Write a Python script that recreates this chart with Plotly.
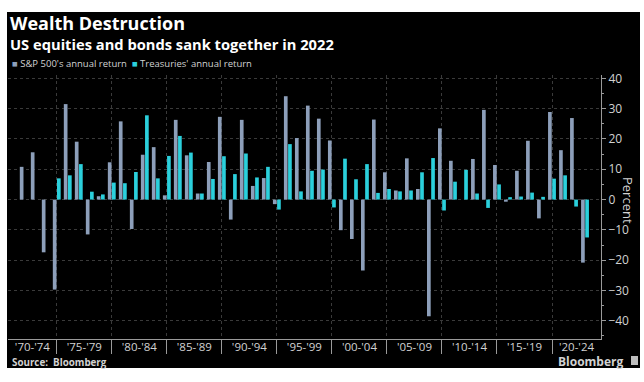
import plotly.graph_objects as go
import pandas as pd

years = list(range(1971, 2023))
sp500 = [10.8, 15.6, -17.4, -29.7, 31.5, 19.1, -11.5, 1.1, 12.3, 25.8,
         -9.7, 14.8, 17.3, 1.4, 26.3, 14.6, 2.0, 12.4, 27.3, -6.6,
         26.3, 4.5, 7.1, -1.5, 34.1, 20.3, 31.0, 26.7, 19.5, -10.1,
         -13.0, -23.4, 26.4, 9.0, 3.0, 13.6, 3.5, -38.5, 23.5, 12.8,
         0.0, 13.4, 29.6, 11.4, -0.7, 9.5, 19.4, -6.2, 28.9, 16.3,
         26.9, -20.8]
treasuries = [None, None, None, 7.0, 8.0, 11.7, 2.6, 1.7, 5.6, 5.4,
              9.1, 27.8, 7.0, 14.4, 21.0, 15.5, 2.0, 6.8, 14.3, 8.4,
              15.2, 7.3, 10.8, -3.3, 18.3, 2.7, 9.5, 9.9, -2.6, 13.5,
              6.7, 11.7, 2.2, 3.5, 2.7, 3.0, 9.0, 13.7, -3.6, 5.9,
              9.8, 2.0, -2.75, 5.0, 0.8, 1.0, 2.3, 0.9, 6.9, 8.0,
              -2.3, -12.5]
group_starts = list(range(1970, 2025, 5))
group_labels = ["'70-'74", "'75-'79", "'80-'84", "'85-'89", "'90-'94", "'95-'99",
                "'00-'04", "'05-'09", "'10-'14", "'15-'19", "'20-'24"]
yticks = [40, 30, 20, 10, 0, -10, -20, -30, -40]

GRAY = "#8d9fba"
CYAN = "#2bd0dc"
TXT = "#d2d2d2"

dates = [f"{y}-12-31" for y in years]
x_range = [pd.Timestamp("1970-07-27"), pd.Timestamp("2024-06-14")]

# tick labels centred in the visible part of each 5-year block
label_pos = []
for g in group_starts:
    a = max(pd.Timestamp(f"{g}-01-01"), x_range[0])
    b = min(pd.Timestamp(f"{g + 5}-01-01"), x_range[1])
    label_pos.append(a + (b - a) / 2)
boundaries = [f"{g}-01-01" for g in group_starts[1:]]

fig = go.Figure()
fig.add_trace(go.Bar(x=dates, y=sp500, name="S&P 500's annual return",
                     marker=dict(color=GRAY, line=dict(width=0))))
fig.add_trace(go.Bar(x=dates, y=treasuries, name="Treasuries' annual return",
                     marker=dict(color=CYAN, line=dict(width=0))))

L, R, T, B = 8, 43, 75, 43
W, H = 644, 382
PW, PH = W - L - R, H - T - B


def X(px):
    return (px - L) / PW


def Y(py):
    return (H - B - py) / PH


fig.update_layout(
    width=W, height=H,
    margin=dict(l=L, r=R, t=T, b=B, autoexpand=False),
    paper_bgcolor="white",
    plot_bgcolor="black",
    barmode="group", bargap=0.24, bargroupgap=0.12,
    showlegend=False,
    font=dict(family="Open Sans", color=TXT, size=12),
    xaxis=dict(
        type="date", range=x_range, automargin=False,
        tickmode="array", tickvals=label_pos, ticktext=group_labels,
        ticks="", showgrid=False,
        showline=True, linecolor="#9a9a9a", linewidth=1,
        tickfont=dict(size=11.5, color=TXT),
        minor=dict(tickmode="array", tickvals=boundaries, ticks="outside",
                   ticklen=14, tickcolor="#9a9a9a", tickwidth=1,
                   showgrid=True, gridcolor="#3a3a3a", gridwidth=1, griddash="dot"),
    ),
    yaxis=dict(
        side="right", range=[-46, 41.1], automargin=False,
        tickmode="array", tickvals=yticks,
        ticks="outside", ticklen=4, tickcolor="#9a9a9a",
        showline=True, linecolor="#9a9a9a", linewidth=1,
        showgrid=True, gridcolor="#3a3a3a", griddash="dot", zeroline=False,
        tickfont=dict(size=12, color=TXT),
        minor=dict(dtick=5, tick0=0, ticks="outside", ticklen=2, tickcolor="#9a9a9a", showgrid=False),
    ),
)
try:
    fig.update_xaxes(ticklabelstandoff=-3)
except Exception:
    pass

fig.add_shape(type="rect", xref="paper", yref="paper", layer="below",
              x0=X(7), x1=X(640), y0=Y(368), y1=Y(12),
              fillcolor="black", line=dict(width=0))
fig.add_shape(type="rect", xref="paper", yref="paper",
              x0=X(631), x1=X(638), y0=Y(365), y1=Y(356),
              fillcolor="#bdbdbd", line=dict(width=0))

anns = [
    dict(text="<b>Wealth Destruction</b>", x=X(8), y=Y(23), size=18, color="white", xanchor="left"),
    dict(text="<b>US equities and bonds sank together in 2022</b>", x=X(8), y=Y(44), size=14.7, color="white", xanchor="left"),
    dict(text=f"<span style='color:{GRAY}'>■</span> S&P 500's annual return  "
              f"<span style='color:{CYAN}'>■</span> Treasuries' annual return",
         x=X(10), y=Y(64), size=9.5, color=TXT, xanchor="left"),
    dict(text="<b>Source:  Bloomberg</b>", x=X(10), y=Y(362), size=9.8, color=TXT, xanchor="left"),
    dict(text="<b>Bloomberg</b>", x=X(626), y=Y(361), size=12, color=TXT, xanchor="right"),
]
for a in anns:
    fig.add_annotation(text=a["text"], x=a["x"], y=a["y"], xref="paper", yref="paper",
                       xanchor=a["xanchor"], yanchor="middle", showarrow=False,
                       font=dict(size=a["size"], color=a["color"], family="Open Sans"))
fig.add_annotation(text="Percent", x=X(628), y=Y(200), xref="paper", yref="paper",
                   xanchor="center", yanchor="middle", showarrow=False, textangle=90,
                   font=dict(size=13, color=TXT, family="Open Sans"))

fig.write_html("out.html", config={"displayModeBar": False},
               post_script="document.body.style.margin='0';document.body.style.overflow='hidden';")
